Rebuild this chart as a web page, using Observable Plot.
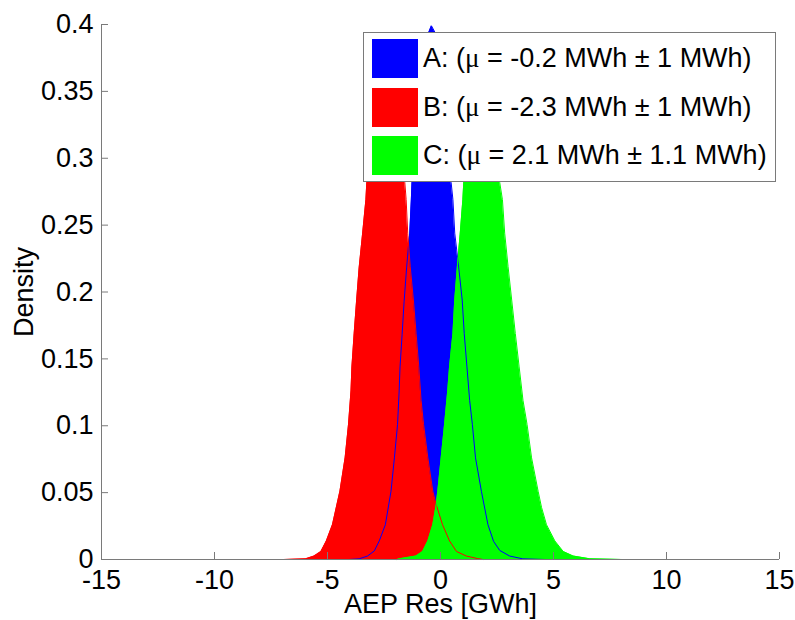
<!DOCTYPE html>
<html>
<head>
<meta charset="utf-8">
<script src="https://cdn.jsdelivr.net/npm/d3@7"></script>
<script src="https://cdn.jsdelivr.net/npm/@observablehq/plot@0.6"></script>
<style>
  html, body { margin: 0; padding: 0; background: #fff; }
  #wrap { position: relative; width: 795px; height: 620px; font-family: "Liberation Sans", Arial, sans-serif; }
  #legend { position: absolute; left: 363px; top: 32px; width: 413px; height: 150px; border: 1px solid #7a7a7a; background: #fff; box-sizing: border-box; }
  .row { position: absolute; left: 8px; height: 39px; display: flex; align-items: center; }
  .sw { width: 46px; height: 39px; margin-right: 5px; }
  .lt { font-size: 27px; color: #000; white-space: nowrap; }
  .mu { font-family: "Liberation Serif", "DejaVu Serif", serif; }
</style>
</head>
<body>
<div id="wrap"></div>
<script>
// Series A (blue)
const aX = [-4.04, -3.60, -3.23, -2.93, -2.71, -2.44, -2.19, -2.04, -1.90, -1.83, -1.79, -1.70, -1.61, -1.50, -1.41, -1.36, -1.29, -1.26, -1.1, -0.9, -0.7, -0.52, -0.40, -0.24, 0.0, 0.2, 0.4, 0.47, 0.55, 0.63, 0.77, 0.96, 1.05, 1.17, 1.29, 1.41, 1.55, 1.81, 2.10, 2.35, 2.62, 3.06, 3.64, 4.62];
const aY = [0, 0.0005, 0.0026, 0.0064, 0.0139, 0.026, 0.051, 0.076, 0.101, 0.126, 0.144, 0.168, 0.193, 0.218, 0.236, 0.244, 0.269, 0.282, 0.308, 0.347, 0.379, 0.394, 0.399, 0.394, 0.37, 0.335, 0.292, 0.282, 0.269, 0.244, 0.224, 0.194, 0.169, 0.144, 0.119, 0.101, 0.076, 0.051, 0.026, 0.0135, 0.0068, 0.0026, 0.0005, 0];
// Series B (red)
const bX = [-6.92, -5.96, -5.59, -5.29, -5.05, -4.78, -4.45, -4.22, -4.07, -3.96, -3.92, -3.82, -3.71, -3.60, -3.45, -3.30, -3.26, -3.1, -2.9, -2.7, -2.5, -2.4, -2.3, -2.1, -1.9, -1.7, -1.58, -1.52, -1.45, -1.34, -1.20, -1.08, -0.96, -0.86, -0.75, -0.56, -0.34, -0.19, 0.09, 0.40, 0.71, 1.14, 1.64, 1.88];
const bY = [0, 0.0005, 0.0026, 0.006, 0.0139, 0.026, 0.051, 0.076, 0.101, 0.126, 0.144, 0.169, 0.194, 0.218, 0.243, 0.269, 0.282, 0.310, 0.345, 0.372, 0.385, 0.387, 0.385, 0.370, 0.343, 0.307, 0.282, 0.269, 0.244, 0.219, 0.194, 0.169, 0.144, 0.119, 0.101, 0.076, 0.051, 0.041, 0.026, 0.0139, 0.006, 0.0026, 0.0007, 0];
// Series C (green)
const cX = [-1.92, -1.82, -1.08, -0.79, -0.56, -0.34, -0.19, -0.12, 0.03, 0.18, 0.32, 0.40, 0.55, 0.63, 0.77, 0.87, 0.99, 1.03, 1.2, 1.4, 1.6, 1.8, 2.0, 2.2, 2.4, 2.62, 2.74, 2.84, 2.99, 3.15, 3.31, 3.48, 3.65, 3.83, 4.03, 4.32, 4.47, 4.69, 5.06, 5.43, 5.87, 6.61, 8.02];
const cY = [0, 0.0005, 0.0026, 0.006, 0.0139, 0.026, 0.041, 0.051, 0.076, 0.101, 0.126, 0.144, 0.169, 0.194, 0.224, 0.243, 0.269, 0.282, 0.308, 0.332, 0.349, 0.356, 0.352, 0.338, 0.315, 0.282, 0.269, 0.244, 0.219, 0.194, 0.169, 0.144, 0.119, 0.101, 0.076, 0.051, 0.039, 0.026, 0.0139, 0.006, 0.0026, 0.0005, 0];

const seriesNames = ["A", "B", "C"];
const seriesLabels = ["A: (\u03bc = -0.2 MWh \u00b1 1 MWh)", "B: (\u03bc = -2.3 MWh \u00b1 1 MWh)", "C: (\u03bc = 2.1 MWh \u00b1 1.1 MWh)"];
const seriesColors = ["#0000ff", "#ff0000", "#00ff00"];

const xTicks = [-15, -10, -5, 0, 5, 10, 15];
const yTicks = [0, 0.05, 0.1, 0.15, 0.2, 0.25, 0.3, 0.35, 0.4];
const xLabel = "AEP Res [GWh]";
const yLabel = "Density";

const toRows = (xs, ys) => xs.map((x, i) => ({x, y: ys[i]}));
const A = toRows(aX, aY), B = toRows(bX, bY), C = toRows(cX, cY);
const sets = [A, B, C];

const W = 795, H = 620, mL = 101, mR = 16, mT = 24, mB = 61;
const fw = W - mL - mR, fh = H - mT - mB;
const axisColor = "#7a7a7a";
const fs = 27;

const marks = [];
sets.forEach((d, i) => marks.push(Plot.areaY(d, {x: "x", y: "y", fill: seriesColors[i]})));
sets.forEach((d, i) => marks.push(Plot.lineY(d, {x: "x", y: "y", stroke: seriesColors[i], strokeWidth: 1})));
marks.push(
  Plot.ruleY([0], {stroke: axisColor}),
  Plot.ruleX([-15], {stroke: axisColor}),
  Plot.tickX(xTicks, {x: d => d, stroke: axisColor, insetTop: fh - 7}),
  Plot.tickY(yTicks, {y: d => d, stroke: axisColor, insetRight: fw - 7}),
  Plot.axisX({ticks: xTicks, tickSize: 0, tickPadding: 10, tickFormat: d => String(d), label: null, fontSize: fs}),
  Plot.axisY({ticks: yTicks, tickSize: 0, tickPadding: 8, tickFormat: d => String(d), label: null, fontSize: fs}),
  Plot.text([xLabel], {frameAnchor: "bottom", lineAnchor: "middle", textAnchor: "middle", dy: 45, fontSize: fs, fill: "#000"}),
  Plot.text([yLabel], {frameAnchor: "left", lineAnchor: "middle", textAnchor: "middle", dx: -77, rotate: -90, fontSize: fs, fill: "#000"})
);

const chart = Plot.plot({
  width: W, height: H,
  marginLeft: mL, marginRight: mR, marginTop: mT, marginBottom: mB,
  x: {domain: [-15, 15]},
  y: {domain: [0, 0.4]},
  style: {fontFamily: "'Liberation Sans', Arial, sans-serif", fontSize: fs + "px", color: "#000", background: "#fff", overflow: "visible"},
  marks
});
const wrap = document.getElementById("wrap");
wrap.appendChild(chart);

const legend = document.createElement("div");
legend.id = "legend";
seriesNames.forEach((n, i) => {
  const row = document.createElement("div");
  row.className = "row";
  row.style.top = (6 + i * 48.5) + "px";
  const sw = document.createElement("div");
  sw.className = "sw";
  sw.style.background = seriesColors[i];
  const t = document.createElement("span");
  t.className = "lt";
  seriesLabels[i].split(/(\u03bc)/).forEach(part => {
    if (part === "\u03bc") {
      const m = document.createElement("span");
      m.className = "mu";
      m.textContent = part;
      t.appendChild(m);
    } else if (part) {
      t.appendChild(document.createTextNode(part));
    }
  });
  row.appendChild(sw);
  row.appendChild(t);
  legend.appendChild(row);
});
wrap.appendChild(legend);
</script>
</body>
</html>
